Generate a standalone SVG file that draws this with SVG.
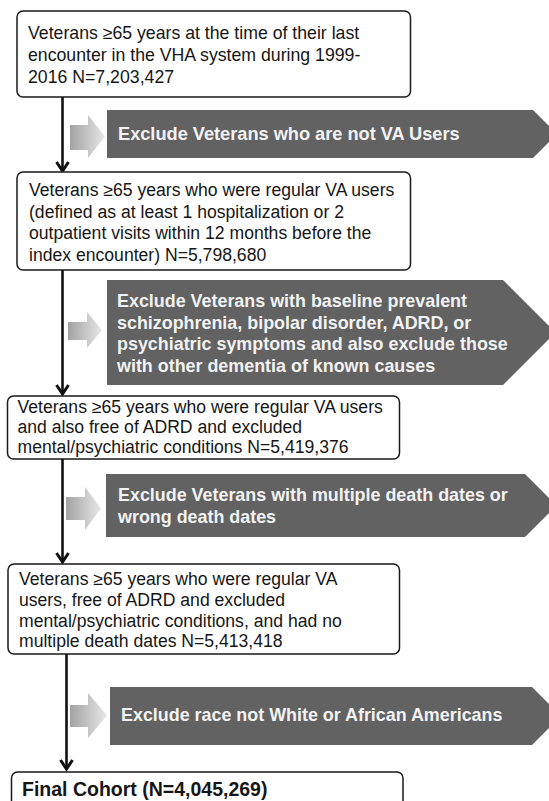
<svg xmlns="http://www.w3.org/2000/svg" width="549" height="801" viewBox="0 0 549 801">
<defs>
<linearGradient id="lg" x1="0" y1="0" x2="1" y2="0">
<stop offset="0" stop-color="#a2a2a2"/>
<stop offset="1" stop-color="#e8e8e8"/>
</linearGradient>
<style>
.box{fill:#fff;stroke:#1a1a1a;stroke-width:1.5}
.t{font-family:"Liberation Sans",Arial,sans-serif;fill:#161616}
.t1{font-size:17.7px}
.t2{font-size:17.6px}
.ex{fill:#626262}
.et{font-family:"Liberation Sans",Arial,sans-serif;font-weight:bold;font-size:17.9px;fill:#f2f2f2}
.la{fill:url(#lg)}
.ln{stroke:#111;stroke-width:2.6;fill:none}
.ah{stroke:#111;stroke-width:3;fill:none;stroke-linejoin:miter}
</style>
</defs>
<rect width="549" height="801" fill="#fff"/>

<g id="connectors">
<line class="ln" x1="62.5" y1="97" x2="62.5" y2="171"/>
<path class="ah" d="M56.5,162 L62.5,171 L68.5,162"/>
<line class="ln" x1="62.5" y1="270" x2="62.5" y2="394"/>
<path class="ah" d="M56.5,385 L62.5,394 L68.5,385"/>
<line class="ln" x1="62.5" y1="459" x2="62.5" y2="562"/>
<path class="ah" d="M56.5,553 L62.5,562 L68.5,553"/>
<line class="ln" x1="66.5" y1="654" x2="66.5" y2="769"/>
<path class="ah" d="M60.5,760 L66.5,769 L72.5,760"/>
</g>

<g id="box1">
<rect class="box" x="17" y="11" width="393.5" height="86" rx="6"/>
<text class="t t1" x="28" y="39">Veterans ≥65 years at the time of their last</text>
<text class="t t1" x="28" y="61">encounter in the VHA system during 1999-</text>
<text class="t t1" x="28" y="83">2016 N=7,203,427</text>
</g>

<g id="exclude1">
<path class="la" d="M70,125 H88 V115 L105,136.5 L88,158 V150 H70 Z"/>
<path class="ex" d="M107,110 H533 L557,134 L533,158 H107 Z"/>
<text class="et" x="118" y="140" style="font-size:18.2px">Exclude Veterans who are not VA Users</text>
</g>

<g id="box2">
<rect class="box" x="17" y="172" width="393.5" height="98" rx="6"/>
<text class="t t2" x="29" y="196">Veterans ≥65 years who were regular VA users</text>
<text class="t t2" x="29" y="217.5">(defined as at least 1 hospitalization or 2</text>
<text class="t t2" x="29" y="239">outpatient visits within 12 months before the</text>
<text class="t t2" x="29" y="260.5">index encounter) N=5,798,680</text>
</g>

<g id="exclude2">
<path class="la" d="M68,322 H87 V312 L102,330 L87,348 V340 H68 Z"/>
<path class="ex" d="M107,280 H503 L555.5,332.5 L503,385 H107 Z"/>
<text class="et" x="117" y="307">Exclude Veterans with baseline prevalent</text>
<text class="et" x="117" y="328.5">schizophrenia, bipolar disorder, ADRD, or</text>
<text class="et" x="117" y="350">psychiatric symptoms  and also exclude those</text>
<text class="et" x="117" y="371.5">with other dementia of known causes</text>
</g>

<g id="box3">
<rect class="box" x="7.5" y="396" width="392" height="63" rx="6"/>
<text class="t t2" x="17.5" y="412.5">Veterans ≥65 years who were regular VA users</text>
<text class="t t2" x="17.5" y="433">and also free of ADRD and excluded</text>
<text class="t t2" x="17.5" y="453">mental/psychiatric conditions N=5,419,376</text>
</g>

<g id="exclude3">
<path class="la" d="M66,497 H85 V487 L101,508.5 L85,530 V520 H66 Z"/>
<path class="ex" d="M106,474 H525 L556.5,505.5 L525,537 H106 Z"/>
<text class="et" x="118" y="501">Exclude Veterans with multiple death dates or</text>
<text class="et" x="118" y="523">wrong death dates</text>
</g>

<g id="box4">
<rect class="box" x="8" y="564" width="391.5" height="90" rx="6"/>
<text class="t t2" x="19" y="584.5">Veterans ≥65 years who were regular VA</text>
<text class="t t2" x="19" y="606">users, free of ADRD and excluded</text>
<text class="t t2" x="19" y="626.5">mental/psychiatric conditions, and had no</text>
<text class="t t2" x="19" y="647">multiple death dates N=5,413,418</text>
</g>

<g id="exclude4">
<path class="la" d="M70,705 H88 V693 L107,715.5 L88,738 V727 H70 Z"/>
<path class="ex" d="M110,687 H532 L561,716 L532,745 H110 Z"/>
<text class="et" x="121" y="721">Exclude race not White or African Americans</text>
</g>

<g id="box5">
<rect class="box" x="11.5" y="772" width="391.5" height="40" rx="6"/>
<text class="t" x="22" y="796" style="font-size:19.5px;font-weight:bold">Final Cohort (N=4,045,269)</text>
</g>
</svg>
